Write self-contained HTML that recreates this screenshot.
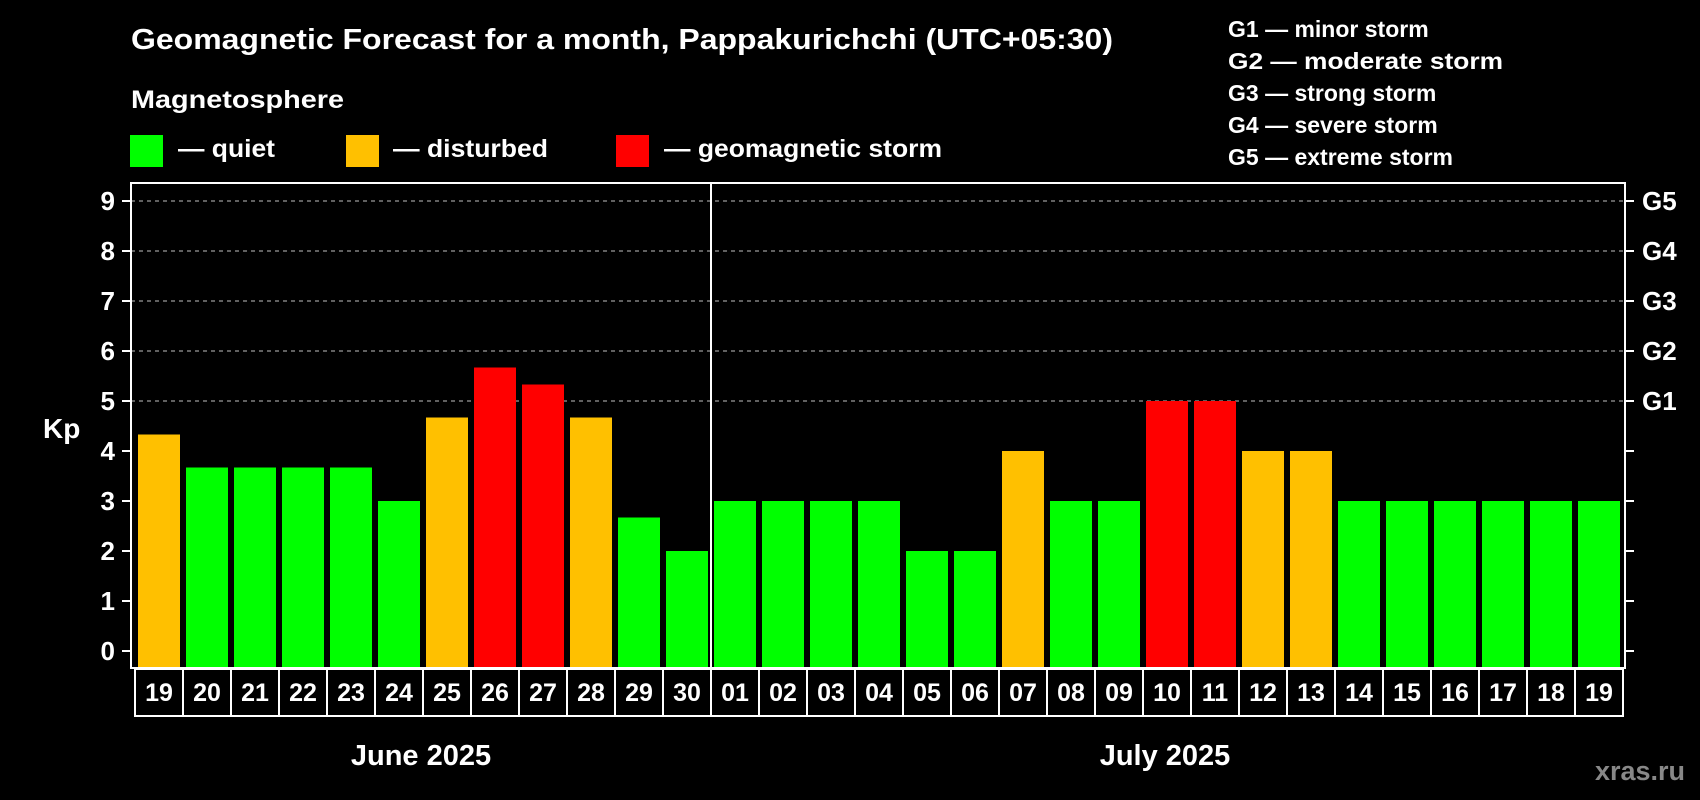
<!DOCTYPE html>
<html><head><meta charset="utf-8"><style>
html,body{margin:0;padding:0;background:#000;}
svg{display:block;font-family:"Liberation Sans",sans-serif;font-weight:bold;}
</style></head><body>
<svg id="chart" width="1700" height="800" viewBox="0 0 1700 800">
<rect width="1700" height="800" fill="#000"/>
<text x="131" y="49" font-size="29" fill="#fff" textLength="982" lengthAdjust="spacingAndGlyphs">Geomagnetic Forecast for a month, Pappakurichchi (UTC+05:30)</text>
<text x="131" y="108" font-size="25" fill="#fff" textLength="213" lengthAdjust="spacingAndGlyphs">Magnetosphere</text>
<rect x="130" y="135" width="33" height="32" fill="#00ff00"/>
<text x="178" y="157" font-size="25" fill="#fff" textLength="97" lengthAdjust="spacingAndGlyphs">— quiet</text>
<rect x="346" y="135" width="33" height="32" fill="#ffc000"/>
<text x="393" y="157" font-size="25" fill="#fff" textLength="155" lengthAdjust="spacingAndGlyphs">— disturbed</text>
<rect x="616" y="135" width="33" height="32" fill="#ff0000"/>
<text x="664" y="157" font-size="25" fill="#fff" textLength="278" lengthAdjust="spacingAndGlyphs">— geomagnetic storm</text>
<g font-size="23" fill="#fff">
<text x="1228" y="37">G1 — minor storm</text>
<text x="1228" y="69" textLength="275" lengthAdjust="spacingAndGlyphs">G2 — moderate storm</text>
<text x="1228" y="101">G3 — strong storm</text>
<text x="1228" y="133">G4 — severe storm</text>
<text x="1228" y="165">G5 — extreme storm</text>
</g>
<g id="grid"></g>
<g id="bars"></g>
<g id="axes"></g>
<text x="43" y="438" font-size="28" fill="#fff">Kp</text>
<text x="421" y="765" font-size="29" fill="#fff" text-anchor="middle">June 2025</text>
<text x="1165" y="765" font-size="29" fill="#fff" text-anchor="middle">July 2025</text>
<text x="1685" y="780" font-size="27" fill="#888" text-anchor="end">xras.ru</text>
</svg>
<script>
const days = ["19","20","21","22","23","24","25","26","27","28","29","30","01","02","03","04","05","06","07","08","09","10","11","12","13","14","15","16","17","18","19"];
const kpValues = [4.33,3.67,3.67,3.67,3.67,3,4.67,5.67,5.33,4.67,2.67,2,3,3,3,3,2,2,4,3,3,5,5,4,4,3,3,3,3,3,3];
const yTicks = [0,1,2,3,4,5,6,7,8,9];
const gLabels = ["","","","","","G1","G2","G3","G4","G5"];
const NS="http://www.w3.org/2000/svg";
const L=131,R=1625,T=183,B=668;
const y0=651,unit=50,x0=138,pitch=48,bw=42;
const yS=v=>y0-v*unit;
const xS=i=>x0+i*pitch;
function mk(tag,attrs,parent){const e=document.createElementNS(NS,tag);for(const k in attrs)e.setAttribute(k,attrs[k]);parent.appendChild(e);return e;}
const grid=document.getElementById('grid'),bars=document.getElementById('bars'),axes=document.getElementById('axes');
yTicks.forEach(v=>{
  if(v>=5){const g=mk('line',{x1:L,x2:R,y1:yS(v),y2:yS(v),stroke:'#999','stroke-width':1.2,'stroke-dasharray':'4 4'},grid);
  
  }
  const tl=mk('line',{x1:122,x2:L,y1:yS(v),y2:yS(v),stroke:'#fff','stroke-width':2},axes);
  
  
  const tr=mk('line',{x1:R,x2:1634,y1:yS(v),y2:yS(v),stroke:'#fff','stroke-width':2},axes);
  
  
  const t=mk('text',{x:115,y:yS(v)+9,'font-size':26,fill:'#fff','text-anchor':'end'},axes);t.textContent=v;
  
  
  if(gLabels[v]){const g=mk('text',{x:1642,y:yS(v)+9,'font-size':26,fill:'#fff'},axes);g.textContent=gLabels[v];
  
  }
});
function col(v){return v>=5?'#ff0000':(v>=4?'#ffc000':'#00ff00');}
kpValues.forEach((v,i)=>{
  const r=mk('rect',{x:xS(i),y:yS(v),width:bw,height:B-yS(v),fill:col(v)},bars);
  
  
});
const frame=mk('rect',{x:L,y:T,width:R-L,height:B-T,fill:'none',stroke:'#fff','stroke-width':2},axes);


const div=mk('line',{x1:711,x2:711,y1:T,y2:B,stroke:'#fff','stroke-width':2},axes);


days.forEach((d,i)=>{
  const cx=135+i*pitch;
  const c=mk('rect',{x:cx,y:669,width:pitch,height:47,fill:'#000',stroke:'#fff','stroke-width':2},axes);
  
  
  const t=mk('text',{x:cx+pitch/2,y:701,'font-size':25,fill:'#fff','text-anchor':'middle'},axes);t.textContent=d;
  
  
});
</script>
</body></html>
